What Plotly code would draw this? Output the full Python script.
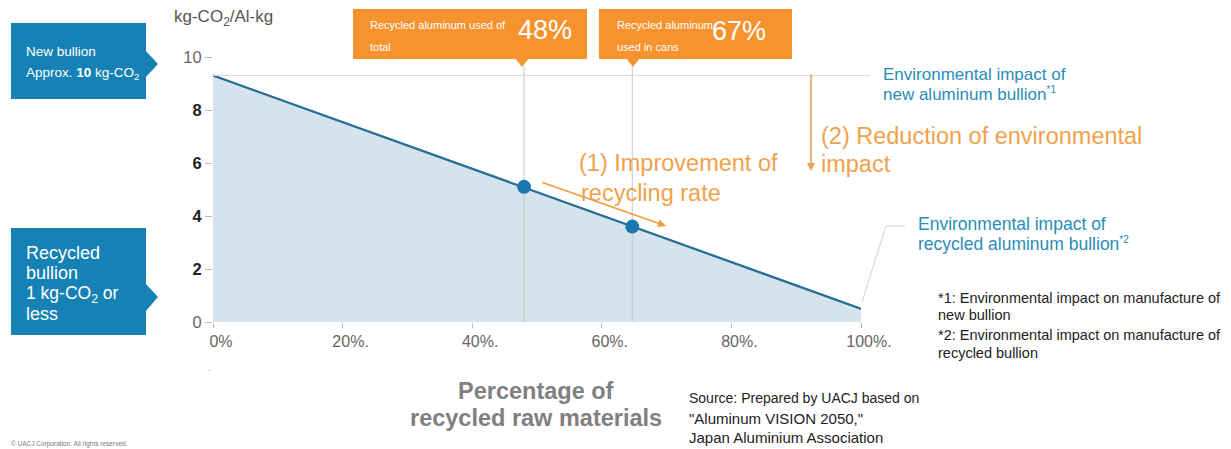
import plotly.graph_objects as go

# ---- data ----
RATE = [0, 100]                      # % recycled raw materials
IMPACT = [9.3, 0.5]                  # kg-CO2 / Al-kg
POINT_RATE = [48, 64.7]
POINT_IMPACT = [5.1, 3.6]
GUIDE_TOP = 9.65                     # top of the vertical guide lines
X_TICKS = [0, 20, 40, 60, 80, 100]
X_TICK_TEXT = ["0%", "20%.", "40%.", "60%.", "80%.", "100%."]
Y_TICKS = [0, 2, 4, 6, 8, 10]
Y_TICK_TEXT = ["<span style='color:#666'>0</span>", "<b>2</b>", "<b>4</b>", "<b>6</b>", "<b>8</b>",
               "<span style='color:#666'>10</span>"]

# page has an 8px body margin: figure is drawn at (8, 8)
OFF = 8
W, H = 1231 - OFF, 449 - OFF
PL, PR, PT, PB = 213, 861, 57, 322     # plot area in page pixels
L, R, T, B = PL - OFF, W - (PR - OFF), PT - OFF, H - (PB - OFF)
PW, PH = PR - PL, PB - PT


def X(px):
    return (px - PL) / PW


def Y(py):
    return (PB - py) / PH


def dx(px):
    return (px - PL) / PW * 100


def dy(py):
    return (PB - py) / PH * 10


FONT = "Liberation Sans, Arial, sans-serif"
BLUE_BOX = "#1581b4"
ORANGE_BOX = "#f7932f"
ORANGE_TXT = "#f0a14c"
TEAL_TXT = "#2a8db5"

fig = go.Figure()
fig.add_trace(go.Scatter(x=RATE, y=IMPACT, mode="lines", fill="tozeroy",
                         fillcolor="#d4e3ec", line=dict(color="#2b7098", width=2),
                         hoverinfo="skip"))
for r in POINT_RATE:
    fig.add_trace(go.Scatter(x=[r, r], y=[0, GUIDE_TOP], mode="lines", cliponaxis=False,
                             line=dict(color="#c4c8cc", width=1), hoverinfo="skip"))
fig.add_trace(go.Scatter(x=RATE, y=IMPACT, mode="lines",
                         line=dict(color="#2b7098", width=2), hoverinfo="skip"))
fig.add_trace(go.Scatter(x=POINT_RATE, y=POINT_IMPACT, mode="markers",
                         marker=dict(color="#1779ad", size=14), hoverinfo="skip"))

shapes = []
# reference line at new-bullion level
shapes.append(dict(type="line", xref="paper", yref="paper", x0=0, x1=X(870),
                   y0=IMPACT[0] / 10, y1=IMPACT[0] / 10, line=dict(color="#d9d9d9", width=1)))
# leader line for recycled label
shapes.append(dict(type="path", xref="paper", yref="paper",
                   path=f"M {X(862)} {Y(302)} L {X(886)} {Y(226)} L {X(905)} {Y(226)}",
                   line=dict(color="#d0d0d0", width=1)))


def rect(x0, y0, x1, y1, color):
    shapes.append(dict(type="rect", xref="paper", yref="paper", x0=X(x0), x1=X(x1),
                       y0=Y(y1), y1=Y(y0), fillcolor=color, line=dict(width=0), layer="above"))


def tri(pts, color):
    p = "M " + " L ".join(f"{X(a)} {Y(b)}" for a, b in pts) + " Z"
    shapes.append(dict(type="path", xref="paper", yref="paper", path=p,
                       fillcolor=color, line=dict(width=0), layer="above"))


# blue callouts
rect(11, 23, 146, 99, BLUE_BOX)
tri([(145, 50), (158, 64), (145, 78)], BLUE_BOX)
rect(11, 228, 146, 335, BLUE_BOX)
tri([(145, 283), (158, 297), (145, 312)], BLUE_BOX)
# orange callouts
rect(353, 9, 587, 59, ORANGE_BOX)
tri([(515, 58), (522, 67), (529, 58)], ORANGE_BOX)
rect(599, 9, 792, 59, ORANGE_BOX)
tri([(626, 58), (633, 67), (640, 58)], ORANGE_BOX)

ann = []


def txt(px, py, text, size, color, anchor="left", bold=False, family=FONT):
    ann.append(dict(xref="paper", yref="paper", x=X(px), y=Y(py), text=(f"<b>{text}</b>" if bold else text),
                    showarrow=False, xanchor=anchor, yanchor="middle",
                    font=dict(size=size, color=color, family=family)))


SUP1 = "<sup><span style='font-size:10px'>*1</span></sup>"
SUP2 = "<sup><span style='font-size:10px'>*2</span></sup>"

# axis unit
txt(172, 18, "kg-CO<sub>2</sub>/Al-kg", 17, "#555")
# blue box texts
txt(24, 51, "New bullion", 13.5, "white")
txt(24, 73, "Approx. <b>10</b> kg-CO<sub>2</sub>", 13.5, "white")
txt(24, 253, "Recycled", 18, "white")
txt(24, 273, "bullion", 18, "white")
txt(24, 294, "1 kg-CO<sub>2</sub> or", 17.5, "white")
txt(24, 314, "less", 18, "white")
# orange box texts
txt(368, 25, "Recycled aluminum used of", 11, "white")
txt(368, 47, "total", 11, "white")
txt(545, 30, "48%", 27, "white", anchor="center")
txt(615, 25, "Recycled aluminum", 11, "white")
txt(615, 47, "used in cans", 11, "white")
txt(739, 31, "67%", 27, "white", anchor="center")
# orange annotations
txt(577, 163, "(1) Improvement of", 23.5, ORANGE_TXT)
txt(579, 193, "recycling rate", 23.5, ORANGE_TXT)
txt(819, 136, "(2) Reduction of environmental", 23.5, ORANGE_TXT)
txt(819, 164, "impact", 23.5, ORANGE_TXT)
# teal labels
txt(881, 74, "Environmental impact of", 17, TEAL_TXT)
txt(881, 94, "new aluminum bullion" + SUP1, 17, TEAL_TXT)
txt(916, 224, "Environmental impact of", 17.5, TEAL_TXT)
txt(916, 244, "recycled aluminum bullion" + SUP2, 17.5, TEAL_TXT)
# footnotes
txt(936, 298, "*1: Environmental impact on manufacture of", 14.5, "#222")
txt(936, 315, "new bullion", 14.5, "#222")
txt(936, 335, "*2: Environmental impact on manufacture of", 14.5, "#222")
txt(936, 353, "recycled bullion", 14.5, "#222")
# x title
txt(536, 391, "Percentage of", 23.5, "#808080", anchor="center", bold=True)
txt(536, 418, "recycled raw materials", 23.5, "#808080", anchor="center", bold=True)
# source
txt(687, 398, "Source: Prepared by UACJ based on", 14, "#222")
txt(687, 418, "\"Aluminum VISION 2050,\"", 15, "#222")
txt(687, 437, "Japan Aluminium Association", 15, "#222")
# misc
txt(206, 367, ".", 10, "#888")
txt(9, 444, "© UACJ Corporation. All rights reserved.", 6.5, "#777")

# arrows
ann.append(dict(xref="x", yref="y", axref="x", ayref="y", x=dx(666), y=dy(226), ax=dx(541), ay=dy(182),
                text="", showarrow=True, arrowhead=2, arrowsize=1, arrowwidth=1.6, arrowcolor="#f29a3a",
                standoff=0, startstandoff=0))
ann.append(dict(xref="x", yref="y", axref="x", ayref="y", x=dx(811), y=dy(171), ax=dx(811), ay=dy(73),
                text="", showarrow=True, arrowhead=2, arrowsize=1, arrowwidth=1.6, arrowcolor="#e9a35a",
                standoff=0, startstandoff=0))

fig.update_layout(
    width=W, height=H, margin=dict(l=L, r=R, t=T, b=B, autoexpand=False),
    paper_bgcolor="white", plot_bgcolor="white", showlegend=False,
    font=dict(family=FONT, color="#333"),
    shapes=shapes, annotations=ann,
    xaxis=dict(range=[0, 100], tickvals=X_TICKS, ticktext=X_TICK_TEXT, showgrid=False, zeroline=False,
               showline=False, ticks="outside", ticklen=5, tickcolor="#bbb",
               tickfont=dict(size=16, color="#666"), ticklabelshift=8, fixedrange=True),
    yaxis=dict(range=[0, 10], tickvals=Y_TICKS, ticktext=Y_TICK_TEXT, showgrid=False, zeroline=False,
               showline=False, ticks="outside", ticklen=7, tickcolor="#bbb",
               tickfont=dict(size=16.5, color="#222"), fixedrange=True),
)

fig.write_html("out.html")
